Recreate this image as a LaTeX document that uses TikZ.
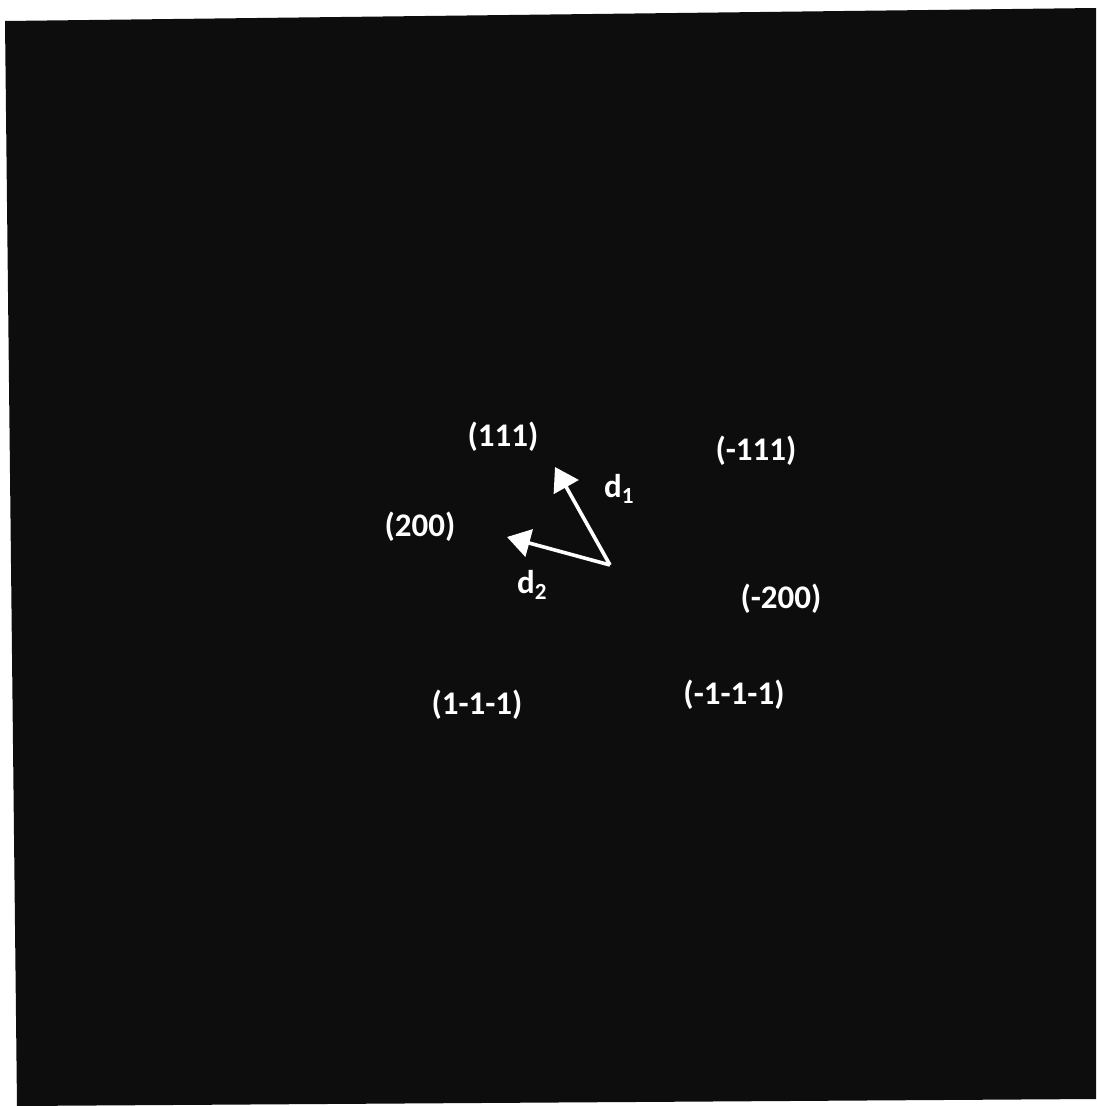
\documentclass[tikz,border=0pt]{standalone}
\usepackage{fontspec}
\setmainfont{Carlito}
\usetikzlibrary{arrows.meta}
\definecolor{bg}{HTML}{0D0D0D}
\begin{document}
\begin{tikzpicture}[x=1pt,y=-1pt,
  lbl/.style={text=white,font=\fontsize{33}{40}\selectfont\bfseries,inner sep=0pt},
  sublbl/.style={text=white,font=\fontsize{33}{40}\selectfont\bfseries,inner sep=0pt},
  vec/.style={draw=white,line width=3.6pt,-{Triangle[length=23pt,width=28pt]}}]
\useasboundingbox (0,0) rectangle (1096,1106);
\fill[white] (0,0) rectangle (1096,1106);
\fill[bg] (5,21) -- (1096,8) -- (1096,1099) -- (17,1106) -- cycle;
\node[lbl] (n111) at (503,437) {(111)};
\node[lbl] (nm111) at (756,451) {(-111)};
\node[lbl] (n200) at (420,527) {(200)};
\node[lbl] (nm200) at (781,599) {(-200)};
\node[lbl] (n1m1m1) at (477,705) {(1-1-1)};
\node[lbl] (nm1m1m1) at (734,695) {(-1-1-1)};
\node[sublbl] (d1) at (619,489) {d$_{\mathbf{1}}$};
\node[sublbl] (d2) at (532,585) {d$_{\mathbf{2}}$};
\coordinate (o) at (610,565);
\coordinate (t1) at (555,467);
\coordinate (t2) at (507,537);
\draw[vec] (o) -- (t1);
\draw[vec] (o) -- (t2);
\end{tikzpicture}
\end{document}
